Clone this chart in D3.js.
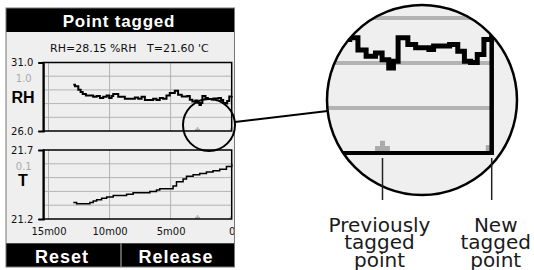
<!DOCTYPE html>
<html>
<head>
<meta charset="utf-8">
<script src="https://cdn.jsdelivr.net/npm/d3@7"></script>
<style>
  body { margin: 0; background: #fff; }
  svg { display: block; }
</style>
</head>
<body>
<script>

// time axis, minutes before now
let timeTicks = [-15, -10, -5, 0]
let timeLabels = ["15m00", "10m00", "5m00", "0"]

// relative humidity trace
let rhDomain = [26, 31]
let rhStep = 1
let rhMinutes = [-12.97, -12.83, -12.56, -12.37, -12.20, -11.94, -11.47, -11.34, -11.06, -10.79, -10.52, -10.24, -10.03, -9.83, -9.70, -9.29, -8.75, -8.20, -7.93, -7.66, -7.38, -7.11, -6.70, -6.43, -6.16, -5.89, -5.62, -5.34, -5.07, -4.66, -4.39, -4.09, -3.64, -3.43, -3.22, -2.98, -2.81, -2.64, -2.52, -2.40, -2.23, -2.15, -1.95, -1.61, -1.49, -1.08, -0.87, -0.70, -0.54, -0.37, -0.20, 0]
let rhValues = [29.38, 29.26, 29.01, 28.85, 28.70, 28.60, 28.60, 28.50, 28.55, 28.40, 28.50, 28.60, 28.40, 28.55, 28.70, 28.50, 28.35, 28.35, 28.45, 28.35, 28.50, 28.26, 28.26, 28.35, 28.26, 28.40, 28.35, 28.60, 28.77, 28.94, 28.65, 28.52, 28.56, 28.29, 28.15, 28.22, 28.07, 27.89, 28.04, 28.56, 28.56, 28.41, 28.34, 28.30, 28.38, 28.41, 28.26, 28.04, 28.01, 28.19, 28.52, 28.56]

// temperature trace
let tDomain = [21.2, 21.7]
let tStep = 0.1
let tMinutes = [-12.97, -12.70, -11.88, -11.61, -11.34, -11.06, -10.65, -10.24, -9.70, -9.16, -8.61, -8.07, -7.25, -6.70, -6.16, -5.89, -5.07, -4.80, -4.52, -3.98, -3.70, -3.16, -2.62, -2.07, -1.53, -0.98, -0.43, 0]
let tValues = [21.32, 21.31, 21.31, 21.32, 21.33, 21.34, 21.35, 21.36, 21.37, 21.37, 21.38, 21.39, 21.39, 21.40, 21.41, 21.42, 21.42, 21.44, 21.47, 21.49, 21.51, 21.52, 21.53, 21.54, 21.55, 21.56, 21.58, 21.60]

// tagged points: previous one, then the new one
let tagMinutes = [-2.8, 0]
let tagLabels = [["Previously", "tagged", "point"], ["New", "tagged", "point"]]

let title = "Point tagged"
let readings = ["RH=28.15 %RH", "T=21.60 'C"]
let buttons = ["Reset", "Release"]

let lcdFont = "'DejaVu Sans', sans-serif"
let boldFont = "'Liberation Sans', Arial, sans-serif"
let gridColor = "#b3b3b3"
let tagColor = "#aaaaaa"

let svg = d3.select("body").append("svg").attr("width", 534).attr("height", 270)
let defs = svg.append("defs")

defs.append("clipPath").attr("id", "screen-clip")
  .append("rect").attr("x", 6).attr("y", 8).attr("width", 228.5).attr("height", 259)

let screen = svg.append("g").attr("clip-path", "url(#screen-clip)")

screen.append("rect")
  .attr("x", 6).attr("y", 8).attr("width", 228.5).attr("height", 259)
  .attr("fill", "#efefef")

// header
screen.append("rect").attr("x", 6).attr("y", 8).attr("width", 228.5).attr("height", 24).attr("fill", "#000")
screen.append("text")
  .text(title)
  .attr("x", 119).attr("y", 27)
  .attr("text-anchor", "middle")
  .attr("font-family", boldFont).attr("font-weight", "bold").attr("font-size", "17px")
  .attr("letter-spacing", "0.8px")
  .attr("fill", "#fff")

screen.selectAll(".reading")
  .data(readings)
  .enter()
  .append("text")
  .text(d => d)
  .attr("x", (d, i) => [50, 147][i]).attr("y", 52)
  .attr("font-family", lcdFont).attr("font-size", "11px")
  .attr("fill", "#111")

let x = d3.scaleLinear().domain([-15, 0]).range([48.5, 231.7])
let axisX = 43.3

function tagMark(g, cx, base, k, isNew) {
  if (isNew) {
    g.append("rect").attr("x", cx - 1.9 * k).attr("y", base - 1.9 * k).attr("width", 1.9 * k).attr("height", 1.9 * k).attr("fill", tagColor)
    return
  }
  g.append("rect").attr("x", cx - 0.8 * k).attr("y", base - 3.3 * k).attr("width", 1.6 * k).attr("height", 1.8 * k).attr("fill", tagColor)
  g.append("rect").attr("x", cx - 2.4 * k).attr("y", base - 1.6 * k).attr("width", 4.8 * k).attr("height", 1.6 * k).attr("fill", tagColor)
}

let plots = [
  {name: "RH", minutes: rhMinutes, values: rhValues, domain: rhDomain, step: rhStep, top: 62.5, bottom: 131, lineWidth: 2, nameY: 97},
  {name: "T", minutes: tMinutes, values: tValues, domain: tDomain, step: tStep, top: 150, bottom: 219, lineWidth: 1.5, nameY: 180}
]

plots.forEach(function(plot) {

  let y = d3.scaleLinear().domain(plot.domain).range([plot.bottom, plot.top])
  plot.y = y

  let g = screen.append("g")

  let gridValues = d3.range(1, 5).map(i => plot.domain[0] + i * plot.step)

  g.selectAll(".hgrid")
    .data(gridValues)
    .enter()
    .append("line")
    .attr("x1", axisX).attr("x2", x(0))
    .attr("y1", d => y(d)).attr("y2", d => y(d))
    .attr("stroke", gridColor)

  g.selectAll(".vgrid")
    .data(timeTicks.slice(0, -1))
    .enter()
    .append("line")
    .attr("x1", d => x(d)).attr("x2", d => x(d))
    .attr("y1", plot.top).attr("y2", plot.bottom)
    .attr("stroke", gridColor)

  tagMinutes.forEach(function(m, i) {
    tagMark(g, x(m), plot.bottom - 0.5, 1, i == tagMinutes.length - 1)
  })

  let line = d3.line()
    .curve(d3.curveStepAfter)
    .x((d, i) => x(plot.minutes[i]))
    .y(d => y(d))

  g.append("path")
    .datum(plot.values)
    .attr("d", line)
    .attr("fill", "none")
    .attr("stroke", "#000")
    .attr("stroke-width", plot.lineWidth)

  g.append("rect")
    .attr("x", axisX).attr("y", plot.top)
    .attr("width", x(0) - axisX).attr("height", plot.bottom - plot.top)
    .attr("fill", "none").attr("stroke", "#000").attr("stroke-width", 1.5)

  let axis = d3.axisLeft(y)
    .tickValues(plot.domain)
    .tickSize(5)
    .tickSizeOuter(5)
    .tickPadding(5)
    .tickFormat(d3.format(".1f"))

  let ga = g.append("g")
    .attr("transform", "translate(" + axisX + ",0)")
    .call(axis)
    .attr("font-family", lcdFont)
    .attr("font-size", "10px")

  ga.select(".domain").attr("stroke-width", 2)
  ga.selectAll("text").attr("fill", "#111")

  g.append("text")
    .text(d3.format(".1f")(plot.step))
    .attr("x", 31.7).attr("y", y(plot.domain[1] - plot.step) + 2.5)
    .attr("dy", "0.35em")
    .attr("text-anchor", "end")
    .attr("font-family", lcdFont).attr("font-size", "10px")
    .attr("fill", "#aaa")

  g.append("text")
    .text(plot.name)
    .attr("x", 23).attr("y", plot.nameY)
    .attr("dy", "0.36em")
    .attr("text-anchor", "middle")
    .attr("font-family", boldFont).attr("font-weight", "bold").attr("font-size", "16px")
    .attr("fill", "#000")

})

let xAxis = d3.axisBottom(x)
  .tickValues(timeTicks)
  .tickSize(0)
  .tickPadding(9)
  .tickFormat((d, i) => timeLabels[i])

let gx = screen.append("g")
  .attr("transform", "translate(0," + plots[1].bottom + ")")
  .call(xAxis)
  .attr("font-family", lcdFont)
  .attr("font-size", "10px")

gx.select(".domain").remove()
gx.selectAll("text").attr("fill", "#111")

// footer buttons
screen.append("rect").attr("x", 6).attr("y", 243.3).attr("width", 228.5).attr("height", 24).attr("fill", "#000")
screen.append("line").attr("x1", 121).attr("x2", 121).attr("y1", 243.3).attr("y2", 267).attr("stroke", "#bbb")

screen.selectAll(".button")
  .data(buttons)
  .enter()
  .append("text")
  .text(d => d)
  .attr("x", (d, i) => [62, 176][i]).attr("y", 263)
  .attr("text-anchor", "middle")
  .attr("font-family", boldFont).attr("font-weight", "bold").attr("font-size", "18px")
  .attr("letter-spacing", "1px")
  .attr("fill", "#fff")

svg.append("rect")
  .attr("x", 6).attr("y", 8).attr("width", 228.5).attr("height", 259)
  .attr("fill", "none").attr("stroke", "#777").attr("stroke-width", 1)

// magnifier
let small = {cx: 209, cy: 125, r: 26}
let big = {cx: 422, cy: 100, r: 95}

let xm = d3.scaleLinear().domain([-15, 0]).range([491.7 - 15 * 39, 491.7])
let ym = d3.scaleLinear().domain(rhDomain).range([153, 153 - 5 * 45])

svg.append("circle")
  .attr("cx", small.cx).attr("cy", small.cy).attr("r", small.r)
  .attr("fill", "none").attr("stroke", "#000").attr("stroke-width", 2)

let dx = big.cx - small.cx
let dy = big.cy - small.cy
let dist = Math.sqrt(dx * dx + dy * dy)

svg.append("line")
  .attr("x1", small.cx + dx / dist * small.r).attr("y1", small.cy + dy / dist * small.r)
  .attr("x2", big.cx - dx / dist * big.r).attr("y2", big.cy - dy / dist * big.r)
  .attr("stroke", "#000").attr("stroke-width", 2)

defs.append("clipPath").attr("id", "lens-clip")
  .append("circle").attr("cx", big.cx).attr("cy", big.cy).attr("r", big.r)

svg.append("circle")
  .attr("cx", big.cx).attr("cy", big.cy).attr("r", big.r)
  .attr("fill", "#efefef")

let lens = svg.append("g").attr("clip-path", "url(#lens-clip)")

lens.selectAll(".mgrid")
  .data(d3.range(1, 5).map(i => rhDomain[0] + i * rhStep))
  .enter()
  .append("line")
  .attr("x1", xm(-15)).attr("x2", xm(0))
  .attr("y1", d => ym(d)).attr("y2", d => ym(d))
  .attr("stroke", gridColor).attr("stroke-width", 4)

tagMinutes.forEach(function(m, i) {
  tagMark(lens, xm(m), ym(rhDomain[0]) - 2, 3.1, i == tagMinutes.length - 1)
})

lens.append("path")
  .datum(rhValues)
  .attr("d", d3.line().curve(d3.curveStepAfter).x((d, i) => xm(rhMinutes[i])).y(d => ym(d)))
  .attr("fill", "none")
  .attr("stroke", "#000")
  .attr("stroke-width", 5)
  .attr("stroke-linecap", "square")

lens.append("line")
  .attr("x1", xm(-15)).attr("x2", xm(0) + 2)
  .attr("y1", ym(rhDomain[0])).attr("y2", ym(rhDomain[0]))
  .attr("stroke", "#000").attr("stroke-width", 4)

lens.append("line")
  .attr("x1", xm(0)).attr("x2", xm(0))
  .attr("y1", ym(rhDomain[1])).attr("y2", ym(rhDomain[0]) + 2)
  .attr("stroke", "#000").attr("stroke-width", 4.5)

svg.append("circle")
  .attr("cx", big.cx).attr("cy", big.cy).attr("r", big.r)
  .attr("fill", "none").attr("stroke", "#000").attr("stroke-width", 2.5)

// callouts
let labelShift = [-3, 4]

tagMinutes.forEach(function(m, i) {

  svg.append("line")
    .attr("x1", xm(m)).attr("x2", xm(m))
    .attr("y1", 158).attr("y2", 200)
    .attr("stroke", "#222").attr("stroke-width", 1.5)

  let label = svg.append("text")
    .attr("text-anchor", "middle")
    .attr("font-family", lcdFont)
    .attr("font-size", "20px")
    .attr("fill", "#1a1a1a")

  label.selectAll("tspan")
    .data(tagLabels[i])
    .enter()
    .append("tspan")
    .text(d => d)
    .attr("x", xm(m) + labelShift[i])
    .attr("y", (d, j) => 231.7 + j * 17.5)

})

</script>
</body>
</html>
